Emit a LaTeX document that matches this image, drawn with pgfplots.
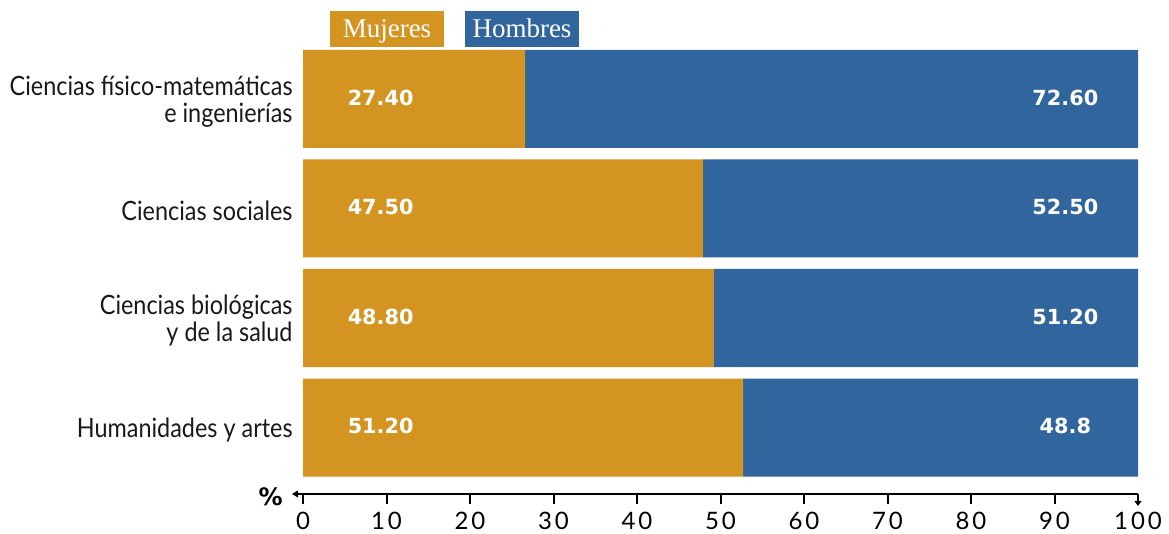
\documentclass[border=0pt]{standalone}
\usepackage{pgfplots}
\pgfplotsset{compat=1.18}
\usepackage{fontspec}
\setmainfont{Lato}
\newfontfamily\catfont[FakeStretch=0.88]{Lato}
\newfontfamily\valfont{DejaVu Sans}
\newfontfamily\tickfont[LetterSpace=12]{Lato}
\newfontfamily\legfont{Liberation Serif}
\definecolor{muj}{HTML}{D39422}
\definecolor{hom}{HTML}{31659D}
\tikzset{catlab/.style={anchor=east, align=right, inner sep=0pt, yshift=-1.2pt, text=black!90, font=\catfont\fontsize{13.3}{13.5}\selectfont},
  vallab/.style={text=white, inner sep=0pt, yshift=0.6pt, font=\valfont\bfseries\fontsize{10.4}{12}\selectfont},
  leg/.style={minimum width=57pt, minimum height=18pt, inner sep=0pt, text height=0.9em, text depth=0.05em, text=white, font=\legfont\fontsize{13.5}{15}\selectfont}}
\begin{document}
\begin{tikzpicture}
\path[use as bounding box] (0,0) rectangle (584.5pt,267pt);
\begin{axis}[
  at={(151.5pt,20pt)}, anchor=south west,
  scale only axis, width=417.5pt, height=222pt,
  xbar stacked, bar width=0.895,
  xmin=0, xmax=100, ymin=-0.607, ymax=3.447,
  axis y line=none, axis x line*=bottom,
  x axis line style={line width=1pt},
  xtick={0,10,...,100}, xtick align=outside, major tick length=5pt,
  xtick style={line width=1pt, black},
  /pgf/number format/assume math mode=true,
  xticklabel style={font=\tickfont\fontsize{12}{14}\selectfont, inner sep=0pt, yshift=-4pt},
  ytick=\empty,
  clip=false,
]
\addplot[fill=muj, draw=none] coordinates {(52.7,0) (49.2,1) (47.9,2) (26.6,3)};
\addplot[fill=hom, draw=none] coordinates {(47.3,0) (50.8,1) (52.1,2) (73.4,3)};
\coordinate (c0) at (axis cs:-1.2,0);
\coordinate (c1) at (axis cs:-1.2,1);
\coordinate (c2) at (axis cs:-1.2,2);
\coordinate (c3) at (axis cs:-1.2,3);
\coordinate (m0) at (axis cs:9.3,0);
\coordinate (m1) at (axis cs:9.3,1);
\coordinate (m2) at (axis cs:9.3,2);
\coordinate (m3) at (axis cs:9.3,3);
\coordinate (h0) at (axis cs:91.3,0);
\coordinate (h1) at (axis cs:91.3,1);
\coordinate (h2) at (axis cs:91.3,2);
\coordinate (h3) at (axis cs:91.3,3);
\coordinate (L) at (axis cs:0,-0.607);
\coordinate (R) at (axis cs:100,-0.607);
\end{axis}
\node[catlab] at (c0) {Humanidades y artes};
\node[catlab] at (c1) {Ciencias biológicas\\y de la salud};
\node[catlab] at (c2) {Ciencias sociales};
\node[catlab] at (c3) {Ciencias físico-matemáticas\\e ingenierías};
\node[vallab] at (m0) {51.20};
\node[vallab] at (m1) {48.80};
\node[vallab] at (m2) {47.50};
\node[vallab] at (m3) {27.40};
\node[vallab] at (h0) {48.8};
\node[vallab] at (h1) {51.20};
\node[vallab] at (h2) {52.50};
\node[vallab] at (h3) {72.60};
\draw[line width=1pt] (L) -- ([xshift=-4pt]L);
\fill ([xshift=-5.5pt]L) -- ([xshift=-2.5pt,yshift=1.8pt]L) -- ([xshift=-2.5pt,yshift=-1.8pt]L) -- cycle;
\fill ([yshift=-6pt]R) -- ([xshift=-1.8pt,yshift=-3.5pt]R) -- ([xshift=1.8pt,yshift=-3.5pt]R) -- cycle;
\node[anchor=east, inner sep=0pt, font=\valfont\bfseries\fontsize{12}{14}\selectfont] at ([xshift=-10pt,yshift=-1.5pt]L) {\%};
\node[leg, fill=muj] at (193.5pt,252.5pt) {Mujeres};
\node[leg, fill=hom] at (261pt,252.5pt) {Hombres};
\end{tikzpicture}
\end{document}
